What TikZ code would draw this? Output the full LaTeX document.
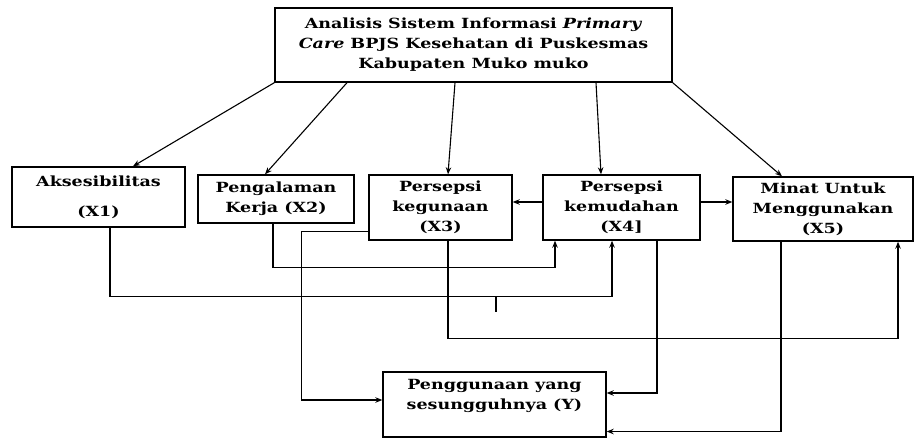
\documentclass[tikz,border=0pt]{standalone}
\usepackage{fontspec}
\setmainfont{DejaVu Serif}[FakeStretch=1.25]
\usetikzlibrary{arrows.meta}
\begin{document}
\begin{tikzpicture}[x=1pt,y=-1pt,
  box/.style={draw, line width=1.4pt, inner sep=0pt, align=center,
    font=\bfseries\fontsize{14}{20}\selectfont},
  conn/.style={line width=1.1pt, -{Stealth[length=7pt,width=5.5pt]}},
  plain/.style={line width=1.1pt}]
\useasboundingbox (0,0) rectangle (917,438);
\node[box, minimum width=397pt, minimum height=74pt] (top) at (473.5,45)
  {Analisis Sistem Informasi \textit{Primary}\\ \textit{Care} BPJS Kesehatan di Puskesmas\\ Kabupaten Muko muko};
\node[box, minimum width=173pt, minimum height=60pt] (x1) at (98.5,197) {Aksesibilitas\\[10pt](X1)};
\node[box, minimum width=156pt, minimum height=48pt] (x2) at (276,199) {Pengalaman\\Kerja (X2)};
\node[box, minimum width=143pt, minimum height=65pt] (x3) at (440.5,207.5) {Persepsi\\kegunaan\\(X3)};
\node[box, minimum width=157pt, minimum height=65pt] (x4) at (621.5,207.5) {Persepsi\\kemudahan\\(X4]};
\node[box, minimum width=180pt, minimum height=64pt] (x5) at (823,209) {Minat Untuk\\Menggunakan\\(X5)};
\node[box, minimum width=223pt, minimum height=65pt] (y) at (494.5,404.5) {Penggunaan yang\\sesungguhnya (Y)\\\mbox{}};
% from top box
\draw[conn] (top.south west) -- ([xshift=34.5pt]x1.north);
\draw[conn] ([xshift=-126.5pt]top.south) -- ([xshift=-11pt]x2.north);
\draw[conn] ([xshift=-18.5pt]top.south) -- ([xshift=7.5pt]x3.north);
\draw[conn] ([xshift=122.5pt]top.south) -- ([xshift=-20.5pt]x4.north);
\draw[conn] (top.south east) -- ([xshift=-41pt]x5.north);
% horizontal
\draw[conn] ([yshift=5.5pt]x4.west) -- ([yshift=5.5pt]x3.east);
\draw[conn] ([yshift=5.5pt]x4.east) -- ([yshift=7pt]x5.west);
% elbow connectors
\draw[conn] ([xshift=-3pt]x2.south) -- ++(0,44) -| ([xshift=-66.5pt]x4.south);
\draw[conn] ([xshift=11.5pt]x1.south) -- ++(0,69) -| ([xshift=-9.5pt]x4.south);
\coordinate (j) at (496,296);
\coordinate (s) at (496,312);
\draw[plain] (j) -- (s);
\draw[conn] ([yshift=-24pt]x3.west) -- ++(-67,0) |- ([yshift=4.5pt]y.west);
\draw[conn] ([xshift=7.5pt]x3.south) -- ++(0,98) -| ([xshift=75pt]x5.south);
\draw[conn] ([xshift=35.5pt]x4.south) |- ([yshift=11.5pt]y.east);
\draw[conn] ([xshift=-42pt]x5.south) |- ([yshift=-27pt]y.east);
\end{tikzpicture}
\end{document}
